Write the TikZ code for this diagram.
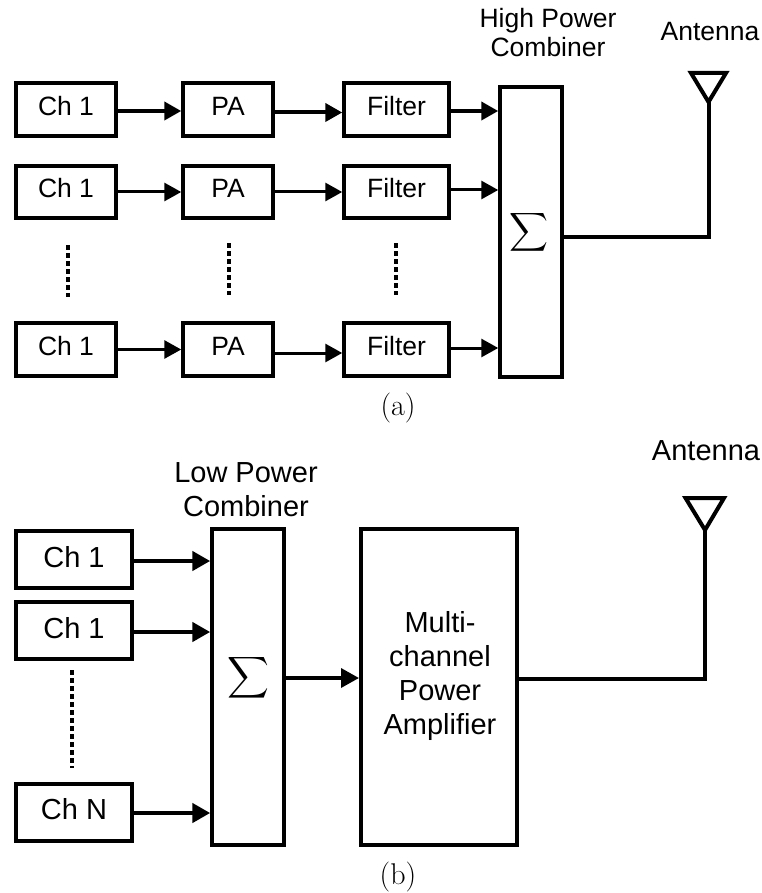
\documentclass[tikz,border=0pt]{standalone}
\usepackage{amsmath}
\usepackage{fontspec}
\setsansfont{Liberation Sans}
\usetikzlibrary{arrows.meta}
\tikzset{
    blockbox/.style={draw=black, line width=4pt, inner sep=0pt, align=center},
    toptext/.style={font=\sffamily\fontsize{26.5}{29}\selectfont, align=center, inner sep=0pt},
    lowtext/.style={font=\sffamily\fontsize{29}{34}\selectfont, align=center, inner sep=0pt},
    topbox/.style={blockbox, toptext, minimum height=52.5pt, text height=19pt, text depth=7pt},
    lowbox/.style={blockbox, lowtext, minimum width=116pt, minimum height=57pt, text height=21pt, text depth=6pt},
    capt/.style={font=\fontsize{30}{34}\selectfont, inner sep=0pt},
    feed/.style={line width=3pt, -{Triangle[length=17pt,width=18pt]}},
    feedlow/.style={line width=4.5pt, -{Triangle[length=18pt,width=19pt]}},
    wire/.style={line width=4pt, line join=miter},
    vdots/.style={line width=4pt, dash pattern=on 4.5pt off 3.5pt},
}
\begin{document}
\begin{tikzpicture}[x=1pt,y=-1pt]
    \useasboundingbox (0,0) rectangle (761,893);

    % channel rows, upper panel
    \node[topbox, minimum width=99.5pt] (ch1) at (66,109.5) {Ch 1};
    \node[topbox, minimum width=99.5pt] (ch2) at (66,192) {Ch 1};
    \node[topbox, minimum width=99.5pt] (ch3) at (66,349.5) {Ch 1};
    \node[topbox, minimum width=89.5pt] (pa1) at (228,109.5) {PA};
    \node[topbox, minimum width=89.5pt] (pa2) at (228,192) {PA};
    \node[topbox, minimum width=89.5pt] (pa3) at (228,349.5) {PA};
    \node[topbox, minimum width=104.5pt] (filter1) at (396.5,109.5) {Filter};
    \node[topbox, minimum width=104.5pt] (filter2) at (396.5,192) {Filter};
    \node[topbox, minimum width=104.5pt] (filter3) at (396.5,349.5) {Filter};

    % high power combiner
    \node[blockbox, minimum width=61.5pt, minimum height=289.5pt] (comb1) at (531,232) {};
    \node[scale=2.7, inner sep=0pt] (sum1) at (529,232) {$\displaystyle\sum$};
    \node[toptext] (comb1text) at (548,33) {High Power\\Combiner};
    \node[toptext] (ant1text) at (710,32) {Antenna};

    % arrows
    \draw[feed, line width=4pt] ([yshift=-1.5pt]ch1.east) -- ([yshift=-1.5pt]pa1.west);
    \draw[feed] (ch2.east) -- (pa2.west);
    \draw[feed] (ch3.east) -- (pa3.west);
    \draw[feed, line width=4pt] ([yshift=-3pt]pa1.east) -- ([yshift=-3pt]filter1.west);
    \draw[feed] (pa2.east) -- (filter2.west);
    \draw[feed] ([yshift=-3.5pt]pa3.east) -- ([yshift=-3.5pt]filter3.west);
    \draw[feed, line width=4pt] ([yshift=-1.5pt]filter1.east) -- ([yshift=-1.5pt]filter1.east -| comb1.west);
    \draw[feed] ([yshift=2pt]filter2.east) -- ([yshift=2pt]filter2.east -| comb1.west);
    \draw[feed] ([yshift=1.5pt]filter3.east) -- ([yshift=1.5pt]filter3.east -| comb1.west);

    % continuation dots
    \draw[vdots] (68,245) -- (68,297);
    \draw[vdots] (229,243) -- (229,295);
    \draw[vdots] (396,243) -- (396,295);

    % antenna
    \coordinate (ant1) at (708.5,100);
    \draw[wire] (691,73) -- (726,73) -- (708.5,102) -- cycle;
    \draw[wire] ([yshift=-5pt]comb1.east) -| (ant1);
    \node[capt] (capta) at (398,408) {(a)};

    % lower panel
    \node[lowbox] (chb1) at (74,559.5) {Ch 1};
    \node[lowbox] (chb2) at (74,630.5) {Ch 1};
    \node[lowbox] (chb3) at (74,812) {Ch N};
    \draw[vdots] (72,670) -- (72,768);

    \node[blockbox, minimum width=71.5pt, minimum height=316pt] (comb2) at (248,687) {};
    \node[scale=2.9, inner sep=0pt] (sum2) at (248,678) {$\displaystyle\sum$};
    \node[lowtext] (comb2text) at (246,490) {Low Power\\Combiner};

    \node[blockbox, minimum width=156pt, minimum height=316pt] (amp) at (439,687) {};
    \node[lowtext] (amptext) at (440,675.5) {Multi-\\channel\\Power\\Amplifier};
    \node[lowtext] (ant2text) at (706,451) {Antenna};

    \draw[feedlow] ([yshift=-1.5pt]chb1.east) -- ([yshift=-1.5pt]chb1.east -| comb2.west);
    \draw[feedlow] ([yshift=-1.5pt]chb2.east) -- ([yshift=-1.5pt]chb2.east -| comb2.west);
    \draw[feedlow] ([yshift=-1pt]chb3.east) -- ([yshift=-1pt]chb3.east -| comb2.west);
    \draw[feedlow, line width=3.5pt] ([yshift=9pt]comb2.east) -- ([yshift=9pt]amp.west);

    \coordinate (ant2) at (705,528);
    \draw[wire] (685.5,498) -- (724,498) -- (705,530) -- cycle;
    \draw[wire] ([yshift=8pt]amp.east) -| (ant2);
    \node[capt] (captb) at (398,877) {(b)};
\end{tikzpicture}
\end{document}
